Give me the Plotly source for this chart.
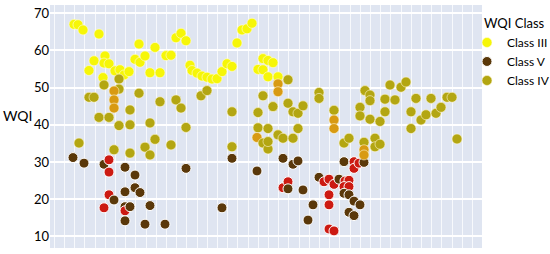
import plotly.graph_objects as go

# sample position along the x axis and WQI value
class3_x = [24, 28, 33, 49, 89, 105, 44, 55, 54, 59, 39, 53, 65, 70, 74, 79, 85, 90, 95, 100,
            110, 116, 121, 126, 131, 136, 140, 142, 147, 152, 157, 162, 167, 172, 177, 182,
            187, 192, 197, 202, 208, 213, 218, 213, 218, 223, 228]
class3_y = [67.0, 66.9, 65.5, 64.4, 61.7, 60.8, 57.2, 58.5, 56.6, 56.4, 54.6, 52.7, 54.5, 54.8,
            53.4, 54.3, 57.6, 56.8, 58.5, 54.0, 54.0, 58.6, 58.7, 63.4, 64.6, 62.6, 56.0, 54.6,
            53.9, 53.1, 52.8, 52.3, 52.4, 54.3, 56.4, 55.7, 62.0, 65.5, 65.8, 67.3, 54.9, 54.8,
            52.9, 57.8, 57.3, 56.7, 52.9]

class5_x = [23, 34, 54, 59, 59, 75, 85, 85, 90, 75, 59, 64, 54, 75, 75, 80, 75, 100, 95, 115,
            136, 182, 207, 233, 243, 248, 233, 238, 238, 253, 263, 258, 172, 269, 274, 279,
            284, 289, 279, 279, 279, 284, 294, 304, 304, 309, 314, 295, 299, 294, 299, 294,
            299, 304, 310, 299, 304]
class5_y = [31.2, 29.7, 29.4, 30.6, 27.3, 28.6, 26.5, 23.1, 21.8, 22.0, 21.2, 19.8, 17.7, 18.0,
            16.9, 18.0, 14.2, 18.3, 13.3, 13.3, 28.3, 31.0, 27.6, 31.0, 29.4, 30.3, 23.1, 24.7,
            22.8, 22.5, 18.5, 14.4, 17.7, 25.9, 24.7, 25.4, 24.0, 25.4, 21.2, 18.5, 12.0, 11.5,
            30.1, 30.1, 28.3, 29.7, 29.9, 24.9, 25.1, 23.4, 23.4, 21.6, 21.2, 19.5, 18.5, 16.5,
            15.6]
class5_tone = ["D", "D", "D", "R", "R", "D", "D", "D", "D", "D", "R", "D", "R", "D",
               "R", "D", "D", "D", "D", "D", "D", "D", "D", "D", "D", "D", "R", "R",
               "D", "D", "D", "D", "D", "D", "R", "R", "R", "D", "R", "R", "R", "R",
               "D", "R", "R", "R", "D", "R", "R", "R", "R", "D", "D", "D", "D", "D", "D"]

class4_x = [54, 69, 69, 39, 44, 64, 64, 64, 89, 80, 49, 59, 69, 80, 110, 126, 131, 100, 136,
            29, 64, 80, 95, 100, 105, 121, 238, 228, 228, 151, 157, 213, 269, 269, 238, 243,
            248, 253, 223, 182, 208, 284, 284, 284, 208, 218, 248, 207, 213, 218, 218, 228,
            233, 243, 182, 294, 299, 314, 314, 314, 325, 325, 330, 361, 407, 310, 310, 315,
            320, 320, 320, 330, 335, 335, 340, 345, 351, 356, 361, 366, 371, 376, 381, 386,
            391, 397, 402]
class4_y = [50.7, 52.3, 49.6, 47.4, 47.4, 49.1, 46.7, 44.5, 48.5, 44.0, 42.0, 42.0, 39.8, 40.0,
            46.2, 46.7, 44.5, 40.5, 39.3, 35.1, 33.3, 32.4, 34.0, 31.9, 36.1, 34.6, 52.1, 51.0,
            48.9, 47.8, 49.2, 47.8, 48.7, 47.1, 45.8, 43.5, 43.1, 45.1, 44.9, 43.5, 43.3, 43.9,
            41.3, 39.0, 39.2, 39.0, 39.0, 36.6, 35.1, 33.5, 35.5, 37.3, 36.4, 36.4, 34.1, 35.1,
            36.4, 35.3, 33.3, 31.9, 36.4, 34.1, 34.8, 39.0, 36.2, 44.7, 42.4, 49.2, 48.0, 46.5,
            41.5, 40.9, 46.9, 43.5, 50.7, 46.7, 50.1, 51.5, 43.5, 47.1, 41.3, 42.7, 47.1, 43.1,
            44.7, 47.4, 47.4]
class4_tone = ["O", "O", "O", "O", "O", "A", "A", "A", "O", "O", "O", "O", "O", "O", "O",
               "O", "O", "O", "O", "O", "O", "O", "O", "O", "O", "O", "O", "A", "A", "O",
               "O", "O", "O", "O", "O", "O", "O", "O", "O", "O", "O", "O", "A", "A", "O",
               "O", "O", "A", "O", "O", "O", "O", "O", "O", "O", "O", "O", "O", "A", "A",
               "O", "O", "O", "O", "O", "O", "O", "O", "O", "O", "O", "O", "O", "O", "O",
               "O", "O", "O", "O", "O", "O", "O", "O", "O", "O", "O", "O"]

y_ticks = [10, 20, 30, 40, 50, 60, 70]

FONT = "Lato, 'Open Sans', sans-serif"
tone_colors = {"D": "#5a380a", "R": "#cc1a12", "O": "#b3a612", "A": "#d89a12"}

fig = go.Figure()
fig.add_trace(go.Scatter(
    x=class3_x, y=class3_y, mode="markers", name="Class III",
    marker=dict(size=10, color="#f6f608", line=dict(width=0.6, color="#fffbe0"))))
fig.add_trace(go.Scatter(
    x=class5_x, y=class5_y, mode="markers", name="Class V",
    marker=dict(size=10, color=[tone_colors[t] for t in class5_tone],
                line=dict(width=1, color="#ffffff"))))
fig.add_trace(go.Scatter(
    x=class4_x, y=class4_y, mode="markers", name="Class IV",
    marker=dict(size=10, color=[tone_colors[t] for t in class4_tone],
                line=dict(width=0.6, color="#fff6d0"))))

fig.update_layout(
    width=550, height=254,
    margin=dict(l=50, r=68, t=5, b=6, autoexpand=False),
    paper_bgcolor="white", plot_bgcolor="#dfe5f1",
    font=dict(family=FONT, size=13, color="black"),
    showlegend=True,
    legend=dict(title=dict(text="WQI Class", font=dict(size=13)),
                x=1.0, xanchor="left", y=0.975, yanchor="top",
                indentation=-15, itemwidth=30,
                font=dict(size=12), bgcolor="rgba(0,0,0,0)", tracegroupgap=0),
    xaxis=dict(range=[0, 432], showticklabels=False, ticks="", zeroline=False,
               showgrid=True, tick0=4.2, dtick=10.2,
               gridcolor="rgba(255,255,255,0.75)", gridwidth=1),
    yaxis=dict(range=[6.9, 72.2], tickvals=y_ticks, ticks="", zeroline=False,
               showgrid=True, gridcolor="white", gridwidth=2,
               tickfont=dict(size=13)),
    annotations=[dict(text="WQI", xref="paper", yref="paper", x=-0.076, y=0.547,
                      xanchor="center", yanchor="middle", showarrow=False,
                      font=dict(size=14))],
)

fig.write_html("out.html", config={"displayModeBar": False},
               post_script="document.body.style.margin='0';")
